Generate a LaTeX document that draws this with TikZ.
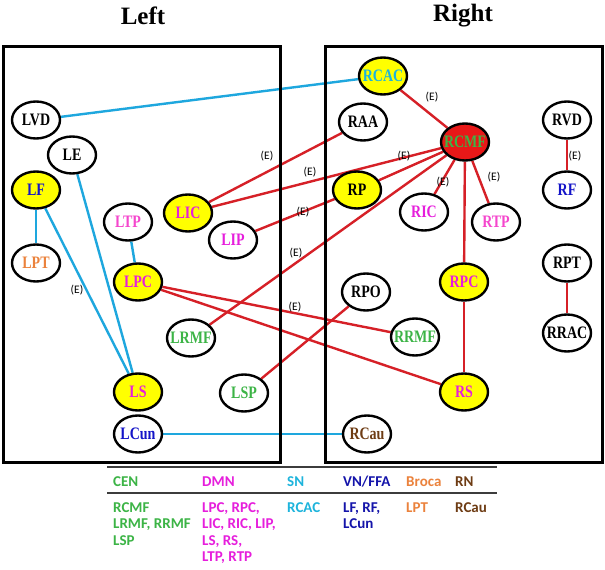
\documentclass[tikz,border=0pt]{standalone}
\usepackage{fontspec}
\usetikzlibrary{shapes.geometric}
\newfontfamily\nodefont{Liberation Serif}[FakeStretch=0.8]
\newfontfamily\titlefont{Liberation Serif}
\newfontfamily\legfont{Carlito}
\definecolor{edgeRed}{RGB}{214,32,39}
\definecolor{edgeBlue}{RGB}{30,167,222}
\definecolor{ndYellow}{RGB}{255,255,0}
\definecolor{ndRed}{RGB}{232,24,24}
\definecolor{txtMag}{RGB}{230,30,220}
\definecolor{txtPink}{RGB}{245,70,205}
\definecolor{txtGreen}{RGB}{60,180,70}
\definecolor{txtBlue}{RGB}{20,20,200}
\definecolor{txtOrange}{RGB}{235,130,60}
\definecolor{txtCyan}{RGB}{30,180,220}
\definecolor{txtBrown}{RGB}{110,60,20}
\definecolor{legBlue}{RGB}{20,20,170}
\definecolor{ruleGray}{RGB}{60,60,60}
\newcommand{\nlab}[1]{\makebox[0pt]{#1}}
\pgfdeclarelayer{bglayer}
\pgfdeclarelayer{edgelayer}
\pgfdeclarelayer{boxlayer}
\pgfsetlayers{bglayer,edgelayer,boxlayer,main}
\tikzset{
  nd/.style={ellipse, draw=black, line width=2.4pt, fill=white, minimum width=48pt,
    minimum height=37pt, inner sep=0pt, font=\nodefont\bfseries\fontsize{17.5}{17.5}\selectfont},
  yel/.style={fill=ndYellow},
  redn/.style={fill=ndRed},
  redline/.style={draw=edgeRed, line width=2.4pt},
  blueline/.style={draw=edgeBlue, line width=2.4pt},
  elab/.style={font=\legfont\fontsize{11.5}{11.5}\selectfont, inner sep=0pt},
  titlestyle/.style={font=\titlefont\bfseries\fontsize{25}{25}\selectfont, inner sep=0pt},
  hemibox/.style={draw=black, line width=3pt},
  leg/.style={font=\legfont\bfseries\fontsize{15}{15}\selectfont, inner sep=0pt, anchor=base west},
}
\begin{document}
\begin{tikzpicture}[x=1pt,y=-1pt]
\useasboundingbox (0,0) rectangle (605,570);
\begin{pgfonlayer}{bglayer}
\fill[white] (0,0) rectangle (605,570);
\end{pgfonlayer}

\node[titlestyle] (tleft) at (143,16) {Left};
\node[titlestyle] (tright) at (463,16) {Right};

\begin{pgfonlayer}{boxlayer}
\draw[hemibox] (3,46) rectangle (280,462);
\draw[hemibox] (325,46) rectangle (602,462);
\end{pgfonlayer}

% left nodes
\node[nd] (LVD) at (36,120) {\nlab{LVD}};
\node[nd] (LE) at (72,155) {\nlab{LE}};
\node[nd,yel,text=txtBlue] (LF) at (36,190) {\nlab{LF}};
\node[nd,text=txtPink] (LTP) at (128,222) {\nlab{LTP}};
\node[nd,yel,text=txtMag] (LIC) at (188,213) {\nlab{LIC}};
\node[nd,text=txtMag] (LIP) at (233,240) {\nlab{LIP}};
\node[nd,text=txtOrange] (LPT) at (36,263) {\nlab{LPT}};
\node[nd,yel,text=txtMag] (LPC) at (138,282) {\nlab{LPC}};
\node[nd,text=txtGreen] (LRMF) at (191,338) {\nlab{LRMF}};
\node[nd,yel,text=txtMag] (LS) at (138,392) {\nlab{LS}};
\node[nd,text=txtGreen] (LSP) at (244,393) {\nlab{LSP}};
\node[nd,text=txtBlue] (LCun) at (138,434) {\nlab{LCun}};

% right nodes
\node[nd,yel,text=txtCyan] (RCAC) at (383,76) {\nlab{RCAC}};
\node[nd] (RAA) at (363,122) {\nlab{RAA}};
\node[nd,redn,text=txtGreen] (RCMF) at (465,142) {\nlab{RCMF}};
\node[nd] (RVD) at (567,120) {\nlab{RVD}};
\node[nd,yel] (RP) at (357,190) {\nlab{RP}};
\node[nd,text=txtMag] (RIC) at (424,212) {\nlab{RIC}};
\node[nd,text=txtPink] (RTP) at (496,222) {\nlab{RTP}};
\node[nd,text=txtBlue] (RF) at (567,190) {\nlab{RF}};
\node[nd] (RPT) at (567,263) {\nlab{RPT}};
\node[nd,yel,text=txtMag] (RPC) at (464,282) {\nlab{RPC}};
\node[nd] (RPO) at (366,292) {\nlab{RPO}};
\node[nd,text=txtGreen] (RRMF) at (415,337) {\nlab{RRMF}};
\node[nd] (RRAC) at (567,333) {\nlab{RRAC}};
\node[nd,yel,text=txtMag] (RS) at (464,392) {\nlab{RS}};
\node[nd,text=txtBrown] (RCau) at (367,434) {\nlab{RCau}};

\begin{pgfonlayer}{edgelayer}
\draw[blueline] (LVD) -- (RCAC);
\draw[blueline] (LF) -- (LPT);
\draw[blueline] (LF) -- (LS);
\draw[blueline] (LE) -- (LS);
\draw[blueline] (LTP) -- (LPC);
\draw[blueline] (LCun) -- (RCau);
\draw[redline] (RCAC) -- (RCMF);
\draw[redline] (RAA) -- (LIC);
\draw[redline] (RCMF) -- (LIC);
\draw[redline] (RCMF) -- (RP);
\draw[redline] (RP) -- (LIP);
\draw[redline] (RCMF) -- (LRMF);
\draw[redline] (RCMF) -- (RIC);
\draw[redline] (RCMF) -- (RTP);
\draw[redline] (RCMF) -- (RPC);
\draw[redline] (RPC) -- (RS);
\draw[redline] (RVD) -- (RF);
\draw[redline] (RPT) -- (RRAC);
\draw[redline] (LPC) -- (RRMF);
\draw[redline] (LPC) -- (RS);
\draw[redline] (RPO) -- (LSP);
\end{pgfonlayer}

% edge labels
\node[elab] (e1) at (432,97) {(E)};
\node[elab] (e2) at (267,156) {(E)};
\node[elab] (e3) at (310,172) {(E)};
\node[elab] (e4) at (404,156) {(E)};
\node[elab] (e5) at (303,212) {(E)};
\node[elab] (e6) at (296,253) {(E)};
\node[elab] (e7) at (295,307) {(E)};
\node[elab] (e8) at (443,182) {(E)};
\node[elab] (e9) at (494,177) {(E)};
\node[elab] (e10) at (575,156) {(E)};
\node[elab] (e11) at (77,290) {(E)};

% legend
\draw[ruleGray, line width=1.2pt] (107,467) -- (497,467);
\draw[ruleGray, line width=1.2pt] (107,493) -- (497,493);
\node[leg,text=txtGreen] (hCEN) at (113,486) {CEN};
\node[leg,text=txtMag] (hDMN) at (202,486) {DMN};
\node[leg,text=txtCyan] (hSN) at (287,486) {SN};
\node[leg,text=legBlue] (hVN) at (343,486) {VN/FFA};
\node[leg,text=txtOrange] (hBroca) at (406,486) {Broca};
\node[leg,text=txtBrown] (hRN) at (455,486) {RN};

\node[leg,text=txtGreen] (c1) at (113,512) {RCMF};
\node[leg,text=txtGreen] (c2) at (113,528.5) {LRMF, RRMF};
\node[leg,text=txtGreen] (c3) at (113,545) {LSP};
\node[leg,text=txtMag] (d1) at (202,512) {LPC, RPC,};
\node[leg,text=txtMag] (d2) at (202,528.5) {LIC, RIC, LIP,};
\node[leg,text=txtMag] (d3) at (202,545) {LS, RS,};
\node[leg,text=txtMag] (d4) at (202,561.5) {LTP, RTP};
\node[leg,text=txtCyan] (s1) at (287,512) {RCAC};
\node[leg,text=legBlue] (v1) at (343,512) {LF, RF,};
\node[leg,text=legBlue] (v2) at (343,528.5) {LCun};
\node[leg,text=txtOrange] (b1) at (406,512) {LPT};
\node[leg,text=txtBrown] (r1) at (455,512) {RCau};
\end{tikzpicture}
\end{document}
